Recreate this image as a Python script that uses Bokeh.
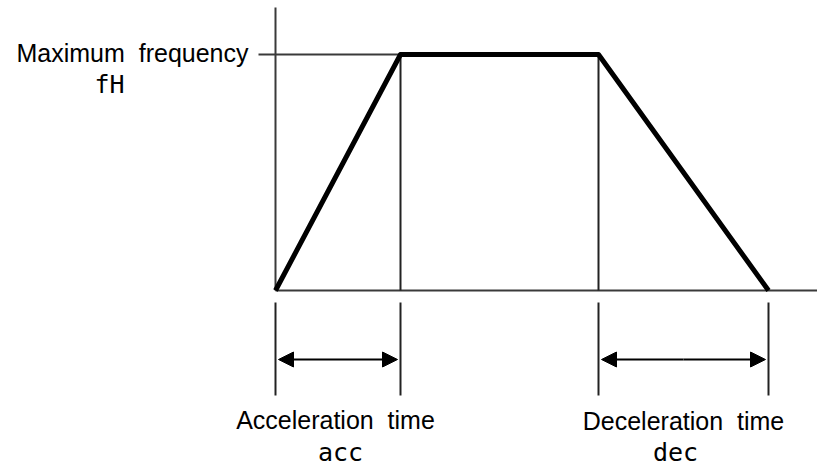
from bokeh.plotting import figure
from bokeh.models import Range1d, Label, Arrow, NormalHead
from bokeh.embed import file_html
from bokeh.resources import INLINE

# ---- data (time in units of the acceleration time, frequency relative to fH)
times = [0.0, 1.0, 2.584, 3.944]      # start, end of acc, start of dec, end of dec
freqs = [0.0, 1.0, 1.0, 0.0]
f_max = 1.0
max_label = "Maximum\u00a0\u00a0frequency"
max_code = "fH"
acc_label = "Acceleration\u00a0\u00a0time"
acc_code = "acc"
dec_label = "Deceleration\u00a0\u00a0time"
dec_code = "dec"

# ---- layout helpers: map the frame to the picture's pixels
W, H = 817, 466
px_per_t = 125.0
px_per_f = 236.0
x0_px, y0_px = 275.0, 290.0     # picture position of the origin

def X(px):
    return (px - x0_px) / px_per_t

def Y(py):
    return (y0_px - py) / px_per_f

p = figure(width=W, height=H, output_backend="svg", toolbar_location=None,
           x_range=Range1d(X(0), X(W)), y_range=Range1d(Y(H), Y(0)),
           min_border=0, outline_line_color=None)
p.axis.visible = False
p.grid.visible = False
p.background_fill_color = "white"
p.border_fill_color = "white"

axis_col = "#3a3a3a"
# axes
p.segment(x0=[times[0]], y0=[0], x1=[times[0]], y1=[Y(7)], line_color=axis_col, line_width=2)
p.segment(x0=[times[0]], y0=[0], x1=[X(W)], y1=[0], line_color=axis_col, line_width=2)
# max frequency reference line with tick
p.segment(x0=[X(258)], y0=[f_max], x1=[times[1]], y1=[f_max], line_color=axis_col, line_width=2)
# vertical guides inside
p.segment(x0=[times[1], times[2]], y0=[0, 0], x1=[times[1], times[2]], y1=[f_max, f_max],
          line_color="#222222", line_width=2)
# lower dimension lines
ylo0, ylo1 = Y(302), Y(395)
p.segment(x0=times, y0=[ylo0] * 4, x1=times, y1=[ylo1] * 4, line_color="#222222", line_width=2)

# profile
p.line(times, freqs, line_color="black", line_width=5, line_join="round")

# dimension arrows
ya = Y(359)
gap = 3.0 / px_per_t
for a, b in [(times[0], times[1]), (times[2], times[3])]:
    for end in (a + gap, b - gap):
        p.add_layout(Arrow(x_start=(a + b) / 2, y_start=ya, x_end=end, y_end=ya,
                           line_color="black", line_width=2,
                           end=NormalHead(size=15, fill_color="black", line_color="black")))

sans = "Liberation Sans"
mono = "DejaVu Sans Mono"
fs = "25px"
shift = 10.5   # compensate the renderer's baseline placement

def lab(text, x, y, font, align):
    p.add_layout(Label(x=x, y=y, text=text, text_font=font, text_font_size=fs,
                       text_align=align, text_baseline="alphabetic", text_color="black"))

lab(max_label, X(248), Y(63 - shift), sans, "right")
lab(max_code, X(109), Y(94 - shift), mono, "center")
lab(acc_label, X(335), Y(430 - shift), sans, "center")
lab(acc_code, X(340), Y(462 - shift), mono, "center")
lab(dec_label, X(683), Y(431 - shift), sans, "center")
lab(dec_code, X(675), Y(462 - shift), mono, "center")

open("out.html", "w").write(file_html(p, INLINE))
